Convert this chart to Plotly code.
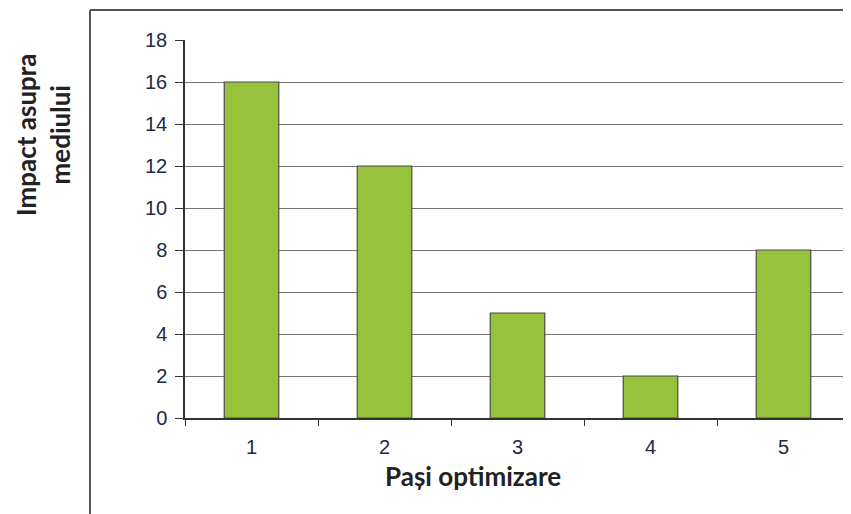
import plotly.graph_objects as go

categories = ["1", "2", "3", "4", "5"]
values = [16, 12, 5, 2, 8]
y_ticks = [0, 2, 4, 6, 8, 10, 12, 14, 16, 18]

# page body offsets the figure by 8px
OFF = 8
W, H = 851, 514
PL, PR, PT, PB = 185, 850, 40, 418  # plot-area edges in page pixels
L, T = PL - OFF, PT - OFF
R = W - (PR - OFF)
B = H - (PB - OFF)
pw, ph = PR - PL, PB - PT

fig = go.Figure(go.Bar(
    x=categories, y=values, width=0.41,
    marker=dict(color="#97C33C", line=dict(color="#4a4a4a", width=1.2)),
))

def px_x(p):
    return (p - PL) / pw

def px_y(p):
    return (PB - p) / ph

tick_font = dict(family="Liberation Sans, Arial", size=20, color="#1c2a44")
title_font = dict(family="Lato, Open Sans", size=26, color="#222")

fig.update_layout(
    width=W, height=H,
    margin=dict(l=L, r=R, t=T, b=B),
    plot_bgcolor="white", paper_bgcolor="white",
    showlegend=False,
    xaxis=dict(
        type="category", tickson="boundaries", ticks="outside", ticklen=6,
        tickcolor="#333", showline=True, linecolor="#333", linewidth=1.5,
        showgrid=False, tickfont=tick_font, ticklabelstandoff=10,
    ),
    yaxis=dict(
        range=[0, 18], tickvals=y_ticks, ticks="outside", ticklen=8,
        tickcolor="#333", showline=True, linecolor="#333", linewidth=1.5,
        showgrid=True, gridcolor="#777", gridwidth=1.2, zeroline=False,
        tickfont=tick_font, ticklabelstandoff=4,
    ),
    shapes=[
        dict(type="line", xref="paper", yref="paper",
             x0=px_x(90), x1=px_x(90), y0=px_y(530), y1=px_y(10),
             line=dict(color="#555", width=2)),
        dict(type="line", xref="paper", yref="paper",
             x0=px_x(90), x1=px_x(870), y0=px_y(10), y1=px_y(10),
             line=dict(color="#555", width=2)),
    ],
    annotations=[
        dict(text="<b>Impact asupra<br>mediului</b>", xref="paper", yref="paper",
             x=px_x(43), y=px_y(135), showarrow=False, textangle=-90,
             font=title_font, xanchor="center", yanchor="middle"),
        dict(text="<b>Pași optimizare</b>", xref="paper", yref="paper",
             x=px_x(473), y=px_y(476), showarrow=False,
             font=title_font, xanchor="center", yanchor="middle"),
    ],
)

fig.write_html("out.html")
